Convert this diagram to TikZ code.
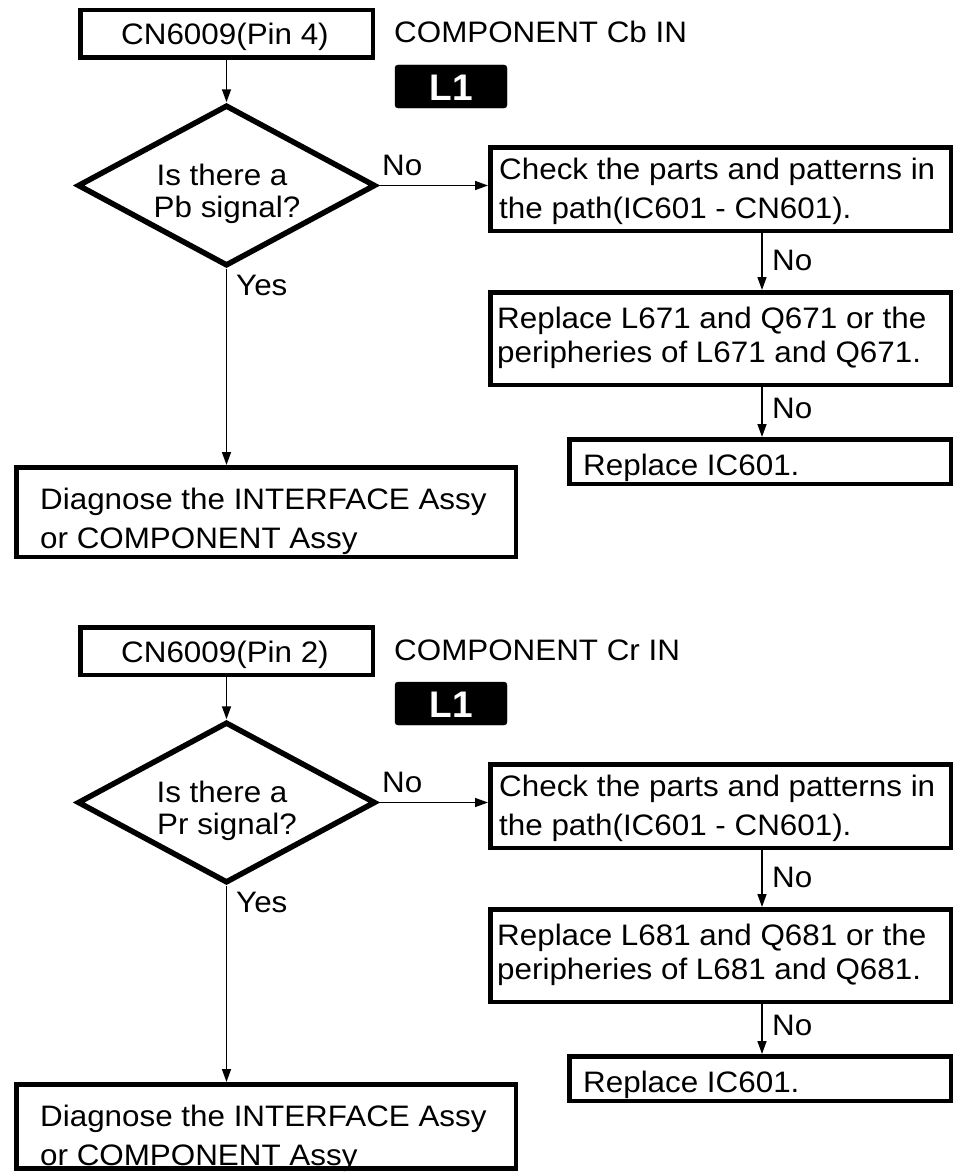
\documentclass[tikz,border=0pt]{standalone}
\usepackage{fontspec}
\newfontfamily\libsans[FakeStretch=1.06]{Liberation Sans}
\newfontfamily\libsanstag{Liberation Sans}
\usetikzlibrary{shapes.geometric,arrows.meta}
\newcommand\fsz{\libsans\fontsize{29.6}{34}\selectfont}
\newcommand\tagfont{\libsanstag\bfseries\fontsize{37}{40}\selectfont}
% #1 suffix, #2 pin, #3 component, #4 signal, #5 replace line 1, #6 replace line 2, #7 y offset, #8 diag box height
\newcommand\flowsec[8]{%
\begin{scope}[yshift=#7]
\node[box, minimum width=292.5pt, minimum height=47.5pt] (cn#1) at (226.5,34) {};
\node[ctxt] (cnt#1) at (225,45) {CN6009(Pin #2)};
\node[txt] (comp#1) at (394,43) {COMPONENT #3 IN};
\node[tagbox] (tag#1) at (451,86.5) {};
\node[font=\tagfont, text=white, inner sep=0pt, anchor=base] (tagt#1) at (451,100) {L1};
\node[dia] (d#1) at (226.5,185.5) {};
\node[ctxt] (qa#1) at (222,185) {Is there a};
\node[ctxt] (qb#1) at (227,217) {#4 signal?};
\node[box, minimum width=460.5pt, minimum height=83.5pt] (chk#1) at (720.5,189) {};
\node[txt] (ca#1) at (499,179) {Check the parts and patterns in};
\node[txt] (cb#1) at (499,218) {the path(IC601 - CN601).};
\node[box, minimum width=460.5pt, minimum height=92.5pt] (rep#1) at (720.5,338.5) {};
\node[txt] (ra#1) at (497,328) {#5};
\node[txt] (rb#1) at (497,362) {#6};
\node[box, minimum width=381.5pt, minimum height=44.5pt] (ic#1) at (760,461.5) {};
\node[txt] (it#1) at (583,475) {Replace IC601.};
\node[box, anchor=north, minimum width=499.5pt, minimum height=#8] (dg#1) at (266,465) {};
\node[txt] (ga#1) at (40,509) {Diagnose the INTERFACE Assy};
\node[txt] (gb#1) at (40,548) {or COMPONENT Assy};
\draw[arr] (cn#1.south) -- (d#1.north);
\draw[arr] (d#1.east) -- (d#1.east -| chk#1.west);
\node[txt] (noa#1) at (382,175) {No};
\draw[arr] (d#1.south) -- (d#1.south |- dg#1.north);
\node[txt] (yes#1) at (236,295) {Yes};
\draw[arr] ([xshift=41.5pt]chk#1.south) -- ([xshift=41.5pt]rep#1.north);
\node[txt] (nob#1) at (772,270) {No};
\draw[arr] ([xshift=41.5pt]rep#1.south) -- ([xshift=41.5pt]rep#1.south |- ic#1.north);
\node[txt] (noc#1) at (772,418) {No};
\end{scope}}
\begin{document}
\begin{tikzpicture}[x=1pt,y=-1pt,
  box/.style={draw, line width=4.5pt, rectangle, inner sep=0pt},
  dia/.style={draw, line width=5.5pt, diamond, inner sep=0pt, minimum width=298pt, minimum height=161pt},
  txt/.style={font=\fsz, inner sep=0pt, anchor=base west},
  ctxt/.style={font=\fsz, inner sep=0pt, anchor=base},
  tagbox/.style={fill=black, draw=black, rounded corners=3pt, minimum width=112pt, minimum height=43pt, inner sep=0pt},
  arr/.style={line width=1.5pt, -{Triangle[length=13pt,width=9pt]}}]
\useasboundingbox (0,0) rectangle (955,1172);
\fill[white] (0,0) rectangle (955,1172);
\flowsec{A}{4}{Cb}{Pb}{Replace L671 and Q671 or the}{peripheries of L671 and Q671.}{0pt}{89.5pt}
\flowsec{B}{2}{Cr}{Pr}{Replace L681 and Q681 or the}{peripheries of L681 and Q681.}{-617pt}{84pt}
\end{tikzpicture}
\end{document}
